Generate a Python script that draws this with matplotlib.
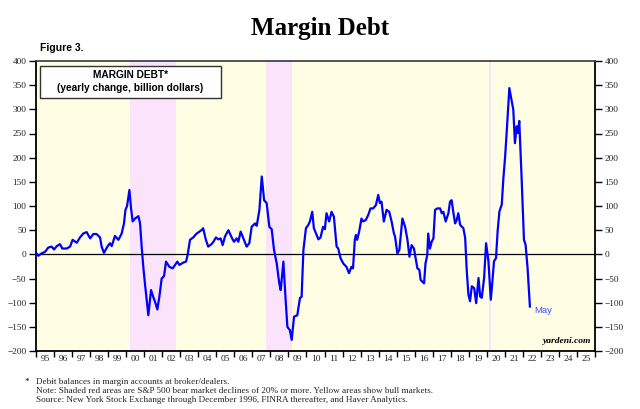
import matplotlib.pyplot as plt
from matplotlib.patches import Rectangle
from matplotlib.ticker import FixedLocator, NullFormatter

# readings: decimal year, yearly change (billion $)
years = [
    1995.00, 1995.13, 1995.31, 1995.50, 1995.68, 1995.87, 1996.00, 1996.15, 1996.33, 1996.46,
    1996.70, 1996.89, 1997.03, 1997.26, 1997.44, 1997.62, 1997.81, 1998.00, 1998.18, 1998.36,
    1998.55, 1998.64, 1998.77, 1998.96, 1999.10, 1999.20, 1999.38, 1999.57, 1999.75, 1999.88,
    1999.96, 2000.05, 2000.18, 2000.27, 2000.36, 2000.49, 2000.68, 2000.77, 2000.86, 2000.95,
    2001.04, 2001.14, 2001.23, 2001.38, 2001.50, 2001.60, 2001.73, 2001.84, 2001.97, 2002.10,
    2002.21, 2002.40, 2002.58, 2002.71, 2002.84, 2002.95, 2003.17, 2003.32, 2003.41, 2003.54,
    2003.72, 2003.91, 2004.18, 2004.27, 2004.42, 2004.55, 2004.73, 2004.84, 2004.98, 2005.11,
    2005.24, 2005.35, 2005.48, 2005.67, 2005.85, 2005.98, 2006.13, 2006.22, 2006.35, 2006.50,
    2006.68, 2006.83, 2006.96, 2007.15, 2007.24, 2007.39, 2007.52, 2007.65, 2007.79, 2007.94,
    2008.07, 2008.20, 2008.35, 2008.49, 2008.57, 2008.72, 2008.81, 2008.94, 2009.08, 2009.18,
    2009.31, 2009.49, 2009.64, 2009.73, 2009.83, 2009.97, 2010.10, 2010.19, 2010.32, 2010.41,
    2010.56, 2010.66, 2010.78, 2010.92, 2011.02, 2011.11, 2011.26, 2011.39, 2011.52, 2011.67,
    2011.76, 2011.89, 2012.04, 2012.22, 2012.36, 2012.49, 2012.58, 2012.68, 2012.74, 2012.81,
    2012.92, 2013.05, 2013.14, 2013.29, 2013.42, 2013.55, 2013.70, 2013.85, 2013.98, 2014.07,
    2014.16, 2014.29, 2014.44, 2014.59, 2014.72, 2014.85, 2014.91, 2015.04, 2015.15, 2015.32,
    2015.47, 2015.60, 2015.71, 2015.83, 2015.96, 2016.07, 2016.15, 2016.26, 2016.33, 2016.44,
    2016.52, 2016.60, 2016.70, 2016.75, 2016.85, 2016.94, 2017.04, 2017.13, 2017.26, 2017.41,
    2017.50, 2017.59, 2017.72, 2017.87, 2017.96, 2018.05, 2018.14, 2018.24, 2018.33, 2018.42,
    2018.52, 2018.70, 2018.80, 2018.89, 2018.98, 2019.07, 2019.17, 2019.30, 2019.41, 2019.54,
    2019.63, 2019.72, 2019.85, 2019.96, 2020.09, 2020.22, 2020.31, 2020.40, 2020.51, 2020.60,
    2020.70, 2020.83, 2020.92, 2021.01, 2021.10, 2021.25, 2021.38, 2021.47, 2021.56, 2021.66,
    2021.73, 2021.80, 2021.93, 2022.06, 2022.15, 2022.26, 2022.39,
]
debt = [
    3, -3, 2, 5, 14, 16, 10, 17, 21, 12,
    12, 16, 30, 24, 35, 43, 46, 33, 42, 42,
    35, 16, 3, 16, 23, 17, 38, 30, 43, 64,
    92, 100, 133, 95, 68, 74, 79, 64, 16, -26,
    -60, -94, -126, -74, -88, -98, -114, -88, -50, -45,
    -15, -26, -29, -22, -15, -22, -17, -15, -1, 30,
    35, 43, 50, 54, 30, 16, 21, 26, 35, 31,
    33, 19, 37, 50, 35, 26, 33, 26, 47, 33,
    16, 23, 57, 64, 59, 92, 161, 112, 106, 57,
    52, 9, -19, -60, -74, -15, -74, -150, -157, -177,
    -129, -126, -90, -88, 9, 54, 61, 68, 88, 54,
    40, 31, 35, 57, 52, 85, 68, 88, 78, 16,
    12, -8, -19, -26, -39, -26, -29, 30, 40, 30,
    47, 74, 68, 71, 81, 95, 95, 102, 123, 106,
    109, 68, 92, 88, 68, 43, 37, 2, 9, 74,
    57, 30, -5, 19, 12, -12, -29, -32, -53, -57,
    -60, -19, -1, 43, 12, 26, 33, 92, 95, 95,
    85, 88, 68, 85, 109, 112, 88, 64, 71, 85,
    61, 54, 34, -35, -83, -97, -66, -70, -101, -49,
    -87, -90, -49, 23, -14, -94, -56, -14, -8, 48,
    89, 103, 158, 199, 251, 344, 317, 299, 230, 265,
    251, 276, 158, 30, 20, -28, -108,
]

bear_markets = [(2000.19, 2002.77), (2007.77, 2009.18), (2020.13, 2020.23)]
tick_years = list(range(1995, 2027))
year_labels = ["%02d" % (y % 100) for y in range(1995, 2026)]

serif = "Liberation Serif"
sans = "Liberation Sans"

fig = plt.figure(figsize=(6.4, 4.09), dpi=100)
ax = fig.add_axes([36 / 640, 1 - 351 / 409, 559 / 640, 290 / 409])

ax.set_facecolor("#fffde3")
for start, end in bear_markets:
    ax.axvspan(start, end, color="#fbe4fb", lw=0, zorder=0)
ax.axhline(0, color="black", lw=0.9, zorder=1)
ax.plot(years, debt, color="#0000ff", lw=1.6, zorder=3)
ax.annotate("May", (years[-1], debt[-1]), xytext=(3, -3), textcoords="offset points",
            color="#3a4dff", fontsize=6.8, family=sans, va="center")

ax.set_xlim(1995, 2026)
ax.set_ylim(-200, 400)

ax.xaxis.set_major_locator(FixedLocator(tick_years))
ax.xaxis.set_major_formatter(NullFormatter())
ax.xaxis.set_minor_locator(FixedLocator([y + 0.5 for y in range(1995, 2026)]))
ax.set_xticklabels(year_labels, minor=True)
ax.tick_params(axis="x", which="major", direction="out", length=4, width=1)
ax.tick_params(axis="x", which="minor", length=0, pad=3, labelsize=6.8)

ax.set_yticks(range(-200, 401, 50))
ax.tick_params(axis="y", direction="out", length=5, width=1, labelsize=6.7,
               left=True, right=True, labelleft=True, labelright=True, pad=2)
for lab in ax.get_xticklabels(minor=True) + ax.get_yticklabels():
    lab.set_family(serif)
    lab.set_color("#222222")
for lab in ax.yaxis.get_ticklabels(which="both"):
    lab.set_family(serif)

for side in ax.spines.values():
    side.set_linewidth(1.3)
ax.spines["top"].set_color("#444444")

# label box in the top-left corner
ax.add_patch(Rectangle((0.007, 0.872), 0.324, 0.111, transform=ax.transAxes,
                       facecolor="white", edgecolor="#333333", lw=1, zorder=4))
ax.text(0.169, 0.952, "MARGIN DEBT*", transform=ax.transAxes, ha="center", va="center",
        fontsize=7.3, fontweight="bold", family=sans, zorder=5)
ax.text(0.169, 0.908, "(yearly change, billion dollars)", transform=ax.transAxes,
        ha="center", va="center", fontsize=7.3, fontweight="bold", family=sans, zorder=5)

ax.text(0.993, 0.022, "yardeni.com", transform=ax.transAxes, ha="right", va="bottom",
        fontsize=6.8, fontweight="bold", style="italic", family=serif, zorder=5)

fig.text(0.5, 1 - 28 / 409, "Margin Debt", ha="center", va="center",
         fontsize=18, fontweight="bold", family=serif)
fig.text(40 / 640, 1 - 48 / 409, "Figure 3.", ha="left", va="center",
         fontsize=7.5, fontweight="bold", family=sans)

notes = [
    "Debit balances in margin accounts at broker/dealers.",
    "Note: Shaded red areas are S&P 500 bear market declines of 20% or more. Yellow areas show bull markets.",
    "Source: New York Stock Exchange through December 1996, FINRA thereafter, and Haver Analytics.",
]
fig.text(25 / 640, 1 - 382 / 409, "*", ha="left", va="center", fontsize=6.6, family=serif)
for i, line in enumerate(notes):
    fig.text(36 / 640, 1 - (382 + 8.8 * i) / 409, line, ha="left", va="center",
             fontsize=6.6, family=serif, color="#222222")

fig.savefig("out.png", dpi=100)
